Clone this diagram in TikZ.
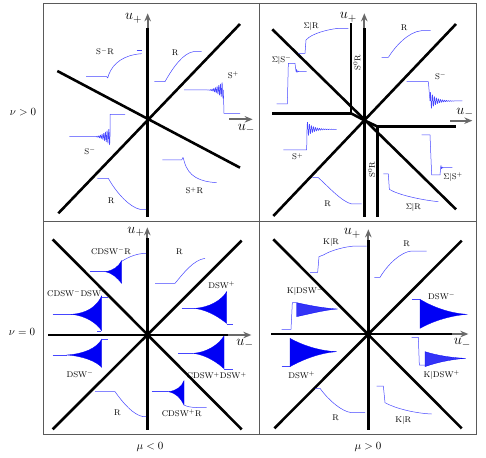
\documentclass[tikz,border=0pt]{standalone}
\usetikzlibrary{arrows.meta}
\definecolor{wblue}{RGB}{70,70,255}
\definecolor{dblue}{RGB}{0,0,245}
\definecolor{axgray}{RGB}{105,105,105}
\definecolor{framegray}{RGB}{90,90,90}
\begin{document}
\begin{tikzpicture}[x=1pt,y=-1pt,
  frame/.style={draw=framegray, line width=0.8pt},
  thickline/.style={line width=2.6pt, black},
  axarrow/.style={line width=1.9pt, axgray, -{Stealth[length=8pt,width=6.5pt]}},
  wave/.style={wblue, line width=0.5pt, line join=round},
  dsw/.style={fill=dblue, draw=dblue, line width=0.3pt},
  lab/.style={font=\fontsize{8.3}{9}\selectfont, inner sep=0pt},
  ulab/.style={font=\fontsize{15}{17}\selectfont, inner sep=0pt},
  side/.style={font=\fontsize{11}{13}\selectfont, inner sep=0pt}]
\fill[white] (0,0) rectangle (486,457);
\useasboundingbox (0,0) rectangle (486,457);
% frame
\draw[frame] (43,3) rectangle (476,434);
\draw[frame] (259,3) -- (259,434);
\draw[frame] (43,221) -- (476,221);
\node[side] (nupos) at (23,112) {$\nu>0$};
\node[side] (nuzero) at (22,332) {$\nu=0$};
\node[side] (muneg) at (150,447) {$\mu<0$};
\node[side] (mupos) at (368,447) {$\mu>0$};

% ---------------- Panel 1 (nu>0, mu<0)
\begin{scope}[shift={(40pt,0pt)},x=0.33333pt,y=-0.33333pt]
\draw[axarrow] (323,120) -- (323,40);
\draw[axarrow] (568,358) -- (638,358);
\draw[thickline] (323,85) -- (323,650);
\draw[thickline] (55,640) -- (600,72);
\draw[thickline] (52,213) -- (600,503);
\node[ulab] (aup) at (281,55) {$u_+$};
\node[ulab] (aum) at (619,387) {$u_-$};
% S-R
\draw[wave] (138,230) -- (200,230) -- (203,234) -- (207,222) .. controls (220,190) and (250,165) .. (305,161);
\draw[wave] (290,152) -- (305,152);
% R upper
\draw[wave] (343,245) -- (375,245) .. controls (400,200) and (430,160) .. (460,155) -- (485,155);
% S+
\draw[wave] (432,270) -- (500,270) -- plot[domain=500:550,samples=150] (\x,{270-26*((\x-500)/50)^2*sin(72*(\x-500))}) -- (552,340) -- (600,340);
% S-
\draw[wave] (88,410) -- (160,410) -- plot[domain=160:210,samples=150] (\x,{410-26*((\x-160)/50)^2*sin(72*(\x-160))}) -- (210,343) -- (255,343);
% S+R
\draw[wave] (367,480) -- (425,480) -- (429,472) -- (433,485) .. controls (445,530) and (480,545) .. (530,548);
% R lower
\draw[wave] (172,535) -- (205,535) .. controls (230,580) and (270,622) .. (300,628) -- (318,628);
\node[lab] (a1) at (195,155) {S$^-$R};
\node[lab] (a2) at (405,158) {R};
\node[lab] (a3) at (580,225) {S$^+$};
\node[lab] (a4) at (150,453) {S$^-$};
\node[lab] (a5) at (463,572) {S$^+$R};
\node[lab] (a6) at (213,603) {R};
\end{scope}

% ---------------- Panel 2 (nu>0, mu>0)
\begin{scope}[shift={(255pt,0pt)},x=0.33333pt,y=-0.33333pt]
\draw[axarrow] (328,120) -- (328,40);
\draw[axarrow] (585,362) -- (652,362);
\draw[thickline] (328,85) -- (328,650);
\draw[thickline] (288,70) -- (288,340) -- (52,340);
\draw[thickline] (288,340) -- (330,362) -- (368,380);
\draw[thickline] (368,650) -- (368,380) -- (603,380);
\draw[thickline] (52,88) -- (603,628);
\draw[thickline] (55,648) -- (603,72);
\node[ulab] (bup) at (280,52) {$u_+$};
\node[ulab] (bum) at (630,338) {$u_-$};
% Sigma|R top
\draw[wave] (130,160) -- (150,160) -- (153,120) .. controls (170,100) and (220,88) .. (250,85) -- (280,85);
% Sigma|S-
\draw[wave] (65,312) -- (97,312) -- (100,190) -- (120,190) -- (123,214) -- plot[domain=123:135,samples=40] (\x,{214-9*exp(-(\x-123)/3)*sin(90*(\x-123))}) -- (155,214);
% R upper right
\draw[wave] (380,172) -- (400,172) .. controls (420,140) and (460,95) .. (500,92) -- (527,92);
% S- right
\draw[wave] (455,245) -- (520,245) -- (525,303) -- plot[domain=525:600,samples=150] (\x,{303-28*exp(-(\x-525)/18)*sin(60*(\x-525))}) -- (622,303);
% S+ left
\draw[wave] (85,450) -- (155,450) -- (156,388) -- plot[domain=156:245,samples=150] (\x,{388-24*exp(-(\x-156)/18)*sin(60*(\x-156))});
% Sigma|S+
\draw[wave] (500,405) -- (525,405) -- (530,525) -- (555,525) -- (557,503) -- plot[domain=557:570,samples=40] (\x,{503-9*exp(-(\x-557)/3)*sin(90*(\x-557))}) -- (592,503);
% Sigma|R bottom
\draw[wave] (385,522) -- (400,522) -- (403,568) .. controls (430,585) and (500,600) .. (550,605);
% R bottom left
\draw[wave] (172,533) -- (190,533) .. controls (220,560) and (260,605) .. (290,612) -- (320,612);
\node[lab] (b1) at (168,80) {$\Sigma|$R};
\node[lab] (b2) at (80,180) {$\Sigma|$S$^-$};
\node[lab, rotate=90] (b3) at (306,188) {S$^0$R};
\node[lab, rotate=90] (b4) at (350,508) {S$^0$R};
\node[lab] (b5) at (447,82) {R};
\node[lab] (b6) at (557,228) {S$^-$};
\node[lab] (b7) at (128,470) {S$^+$};
\node[lab] (b8) at (218,612) {R};
\node[lab] (b9) at (475,622) {$\Sigma|$R};
\node[lab] (b10) at (594,532) {$\Sigma|$S$^+$};
\end{scope}

% ---------------- Panel 3 (nu=0, mu<0)
\begin{scope}[shift={(40pt,-220pt)},x=0.33333pt,y=-0.33333pt]
\draw[axarrow] (322,90) -- (322,22);
\draw[axarrow] (540,345) -- (634,345);
\draw[thickline] (322,55) -- (322,630);
\draw[thickline] (25,345) -- (565,345);
\draw[thickline] (38,58) -- (605,628);
\draw[thickline] (38,628) -- (605,62);
\node[ulab] (cup) at (288,35) {$u_+$};
\node[ulab] (cum) at (615,372) {$u_-$};
% CDSW-R
\draw[wave] (150,155) -- (195,155);
\fill[dsw] (195,155) .. controls (220,152) and (235,140) .. (245,122) -- (245,190) .. controls (232,175) and (220,160) .. (195,155) -- cycle;
\draw[wave] (245,124) .. controls (270,108) and (295,100) .. (318,100);
% R upper right
\draw[wave] (345,190) -- (405,190) .. controls (430,160) and (460,120) .. (495,115);
% DSW+ right
\draw[wave] (425,265) -- (465,265);
\fill[dsw] (465,265) .. controls (510,262) and (545,240) .. (560,215) -- (560,310) .. controls (540,295) and (510,272) .. (465,265) -- cycle;
\draw[wave] (560,312) -- (580,312);
% CDSW-DSW-
\draw[wave] (38,283) -- (95,283);
\fill[dsw] (95,283) .. controls (140,280) and (170,260) .. (185,228) -- (185,332) .. controls (170,310) and (140,288) .. (95,283) -- cycle;
\draw[wave] (185,232) -- (205,232);
\draw[wave] (172,334) -- (183,334);
% DSW- left
\draw[wave] (38,405) -- (80,405);
\fill[dsw] (80,405) .. controls (130,402) and (170,385) .. (185,358) -- (185,442) .. controls (170,425) and (130,408) .. (80,405) -- cycle;
\draw[wave] (185,358) -- (205,358);
% CDSW+DSW+
\draw[wave] (415,400) -- (460,400);
\fill[dsw] (460,400) .. controls (500,397) and (535,375) .. (552,348) -- (552,446) .. controls (535,430) and (500,405) .. (460,400) -- cycle;
\draw[wave] (552,447) -- (580,447);
% CDSW+R
\draw[wave] (335,515) -- (385,515);
\fill[dsw] (385,515) .. controls (410,512) and (425,500) .. (432,482) -- (432,555) .. controls (422,535) and (410,520) .. (385,515) -- cycle;
\draw[wave] (432,555) .. controls (450,565) and (480,562) .. (500,563);
% R lower left
\draw[wave] (165,515) -- (225,515) .. controls (250,550) and (280,585) .. (310,590) -- (318,590);
\node[lab] (c1) at (213,93) {CDSW$^-$R};
\node[lab] (c2) at (418,95) {R};
\node[lab] (c3) at (545,195) {DSW$^+$};
\node[lab] (c4) at (112,220) {CDSW$^-$DSW$^-$};
\node[lab] (c5) at (120,462) {DSW$^-$};
\node[lab] (c6) at (530,467) {CDSW$^+$DSW$^+$};
\node[lab] (c7) at (232,578) {R};
\node[lab] (c8) at (425,580) {CDSW$^+$R};
\end{scope}

% ---------------- Panel 4 (nu=0, mu>0)
\begin{scope}[shift={(255pt,-220pt)},x=0.33333pt,y=-0.33333pt]
\draw[axarrow] (340,90) -- (340,28);
\draw[axarrow] (570,342) -- (640,342);
\draw[thickline] (340,60) -- (340,630);
\draw[thickline] (48,342) -- (590,342);
\draw[thickline] (55,58) -- (620,625);
\draw[thickline] (58,625) -- (620,62);
\node[ulab] (dup) at (292,40) {$u_+$};
\node[ulab] (dum) at (622,370) {$u_-$};
% K|R top
\draw[wave] (165,157) -- (188,157) -- (192,110) -- (205,105) .. controls (230,90) and (270,80) .. (300,78) -- (335,78);
% R top right
\draw[wave] (358,172) -- (375,172) .. controls (400,130) and (440,95) .. (470,93) -- (515,93);
% K|DSW-
\draw[wave] (80,328) -- (108,328) -- (112,248) -- (125,248);
\fill[dsw, fill opacity=0.8] (125,248) .. controls (170,258) and (210,265) .. (248,267) .. controls (210,270) and (170,280) .. (125,290) -- cycle;
% DSW- right
\draw[wave] (470,238) -- (495,238);
\fill[dsw] (495,238) .. controls (540,265) and (590,280) .. (635,283) .. controls (590,287) and (540,300) .. (495,325) -- cycle;
% DSW+ left
\draw[wave] (80,440) -- (105,440);
\fill[dsw] (105,355) .. controls (150,380) and (200,393) .. (245,395) .. controls (200,398) and (150,415) .. (105,440) -- cycle;
% K|DSW+
\draw[wave] (470,352) -- (490,352) -- (493,435) -- (510,435);
\fill[dsw, fill opacity=0.8] (510,395) .. controls (550,408) and (600,414) .. (632,415) .. controls (600,417) and (550,425) .. (510,440) -- cycle;
% R bottom left
\draw[wave] (180,505) -- (195,505) .. controls (220,540) and (260,575) .. (290,578) -- (330,578);
% K|R bottom
\draw[wave] (365,498) -- (385,498) -- (390,548) .. controls (420,565) and (480,580) .. (530,582);
\node[lab] (d1) at (228,68) {K$|$R};
\node[lab] (d2) at (455,72) {R};
\node[lab] (d3) at (150,215) {K$|$DSW$^-$};
\node[lab] (d4) at (560,228) {DSW$^-$};
\node[lab] (d5) at (140,465) {DSW$^+$};
\node[lab] (d6) at (560,465) {K$|$DSW$^+$};
\node[lab] (d7) at (242,592) {R};
\node[lab] (d8) at (445,600) {K$|$R};
\end{scope}
\end{tikzpicture}
\end{document}
